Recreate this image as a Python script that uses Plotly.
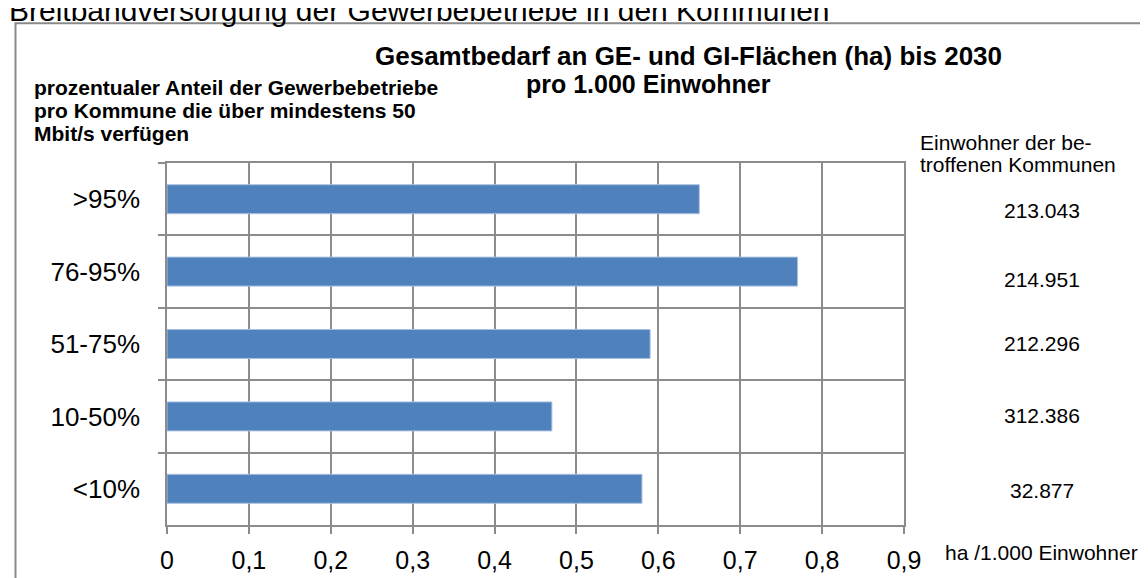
import plotly.graph_objects as go

# ---- data ----
categories = [">95%", "76-95%", "51-75%", "10-50%", "<10%"]
bedarf_ha_pro_1000 = [0.65, 0.77, 0.59, 0.47, 0.58]
einwohner_labels = ["213.043", "214.951", "212.296", "312.386", "32.877"]
x_ticks = [0, 0.1, 0.2, 0.3, 0.4, 0.5, 0.6, 0.7, 0.8, 0.9]

title_line1 = "Gesamtbedarf an GE- und GI-Flächen (ha) bis 2030"
title_line2 = "pro 1.000 Einwohner"
left_note = ["prozentualer Anteil der Gewerbebetriebe",
             "pro Kommune die über mindestens 50",
             "Mbit/s verfügen"]
right_head = ["Einwohner der be-", "troffenen Kommunen"]
x_unit = "ha /1.000 Einwohner"
top_cut_text = "Breitbandversorgung der Gewerbebetriebe in den Kommunen"

# ---- geometry ----
W, H = 1148, 578
L, R, T, B = 159, 896, 155, 528
FONT = "Arial, Liberation Sans, sans-serif"
GRID = "#8C8C8C"


def px(x):
    return (x - L) / (R - L)


def py(y):
    return (B - y) / (B - T)


fig = go.Figure()
fig.add_trace(go.Bar(
    x=bedarf_ha_pro_1000, y=categories, orientation="h",
    width=0.4,
    marker=dict(color="#4F81BD", line=dict(color="#A7C0E0", width=1)),
    hoverinfo="skip",
))

annotations = []
annotations.append(dict(text=f"<b>{title_line1}</b>", x=px(680), y=py(45),
                        xanchor="center", yanchor="middle",
                        font=dict(size=26, color="black", family=FONT)))
annotations.append(dict(text=f"<b>{title_line2}</b>", x=px(640), y=py(74),
                        xanchor="center", yanchor="middle",
                        font=dict(size=25, color="black", family=FONT)))
for i, line in enumerate(left_note):
    annotations.append(dict(text=f"<b>{line}</b>", x=px(24), y=py(77 + 24 * i),
                            xanchor="left", yanchor="middle",
                            font=dict(size=21, color="black", family=FONT)))
for i, line in enumerate(right_head):
    annotations.append(dict(text=line, x=px(910), y=py(134 + 23 * i),
                            xanchor="left", yanchor="middle",
                            font=dict(size=21, color="black", family=FONT)))
value_y = [204, 275, 341, 415, 492]
for lab, yy in zip(einwohner_labels, value_y):
    annotations.append(dict(text=lab, x=px(1034), y=py(yy),
                            xanchor="center", yanchor="middle",
                            font=dict(size=21, color="black", family=FONT)))
annotations.append(dict(text=x_unit, x=px(935), y=py(556),
                        xanchor="left", yanchor="middle",
                        font=dict(size=21, color="black", family=FONT)))
annotations.append(dict(text=top_cut_text, x=px(-1), y=py(17),
                        xanchor="left", yanchor="bottom",
                        font=dict(size=30, color="black", family=FONT)))
for a in annotations:
    a.update(xref="paper", yref="paper", showarrow=False)

fig.update_layout(
    width=W, height=H,
    margin=dict(l=L, r=W - R, t=T, b=H - B, pad=0),
    paper_bgcolor="white", plot_bgcolor="white",
    separators=",.",
    showlegend=False,
    font=dict(family=FONT, color="black"),
    annotations=annotations,
    shapes=[dict(type="rect", xref="paper", yref="paper",
                 x0=px(7.5), x1=px(1170), y0=py(600), y1=py(11),
                 line=dict(color="#8A8A8A", width=2), layer="below")],
    bargap=0.6,
)
fig.update_xaxes(
    range=[0, 0.9], tickvals=x_ticks, tickformat=".1~f",
    showgrid=True, gridcolor=GRID, gridwidth=1.5,
    showline=True, linecolor=GRID, linewidth=1.5, mirror=True,
    ticks="outside", ticklen=7, tickcolor=GRID, tickwidth=1.5,
    tickfont=dict(size=25, family=FONT, color="black"),
    ticklabelstandoff=5,
    zeroline=False, fixedrange=True,
)
fig.update_yaxes(
    type="category", categoryorder="array", categoryarray=categories,
    autorange="reversed", tickson="boundaries",
    showgrid=True, gridcolor=GRID, gridwidth=1.5,
    showline=True, linecolor=GRID, linewidth=1.5, mirror=True,
    ticks="outside", ticklen=7, tickcolor=GRID, tickwidth=1.5,
    tickfont=dict(size=26, family=FONT, color="black"),
    ticklabelstandoff=20,
    fixedrange=True,
)

fig.write_html("out.html")
